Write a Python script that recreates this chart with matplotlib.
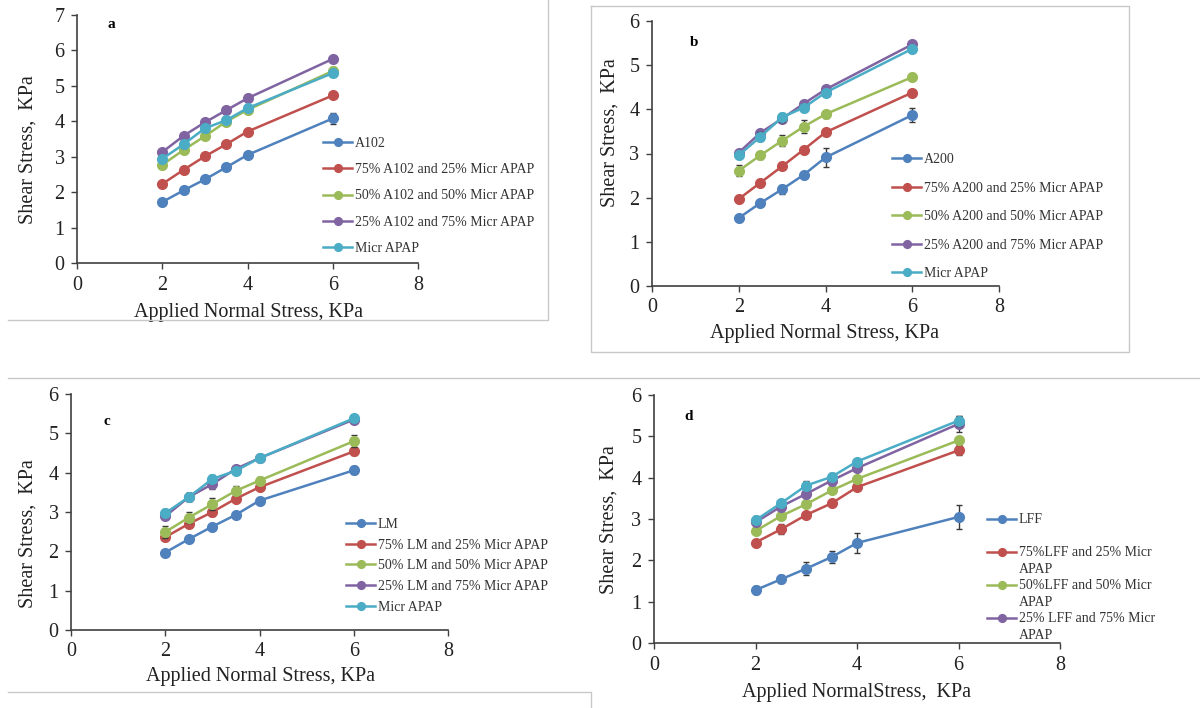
import matplotlib
matplotlib.use("Agg")
import numpy as np
import matplotlib.pyplot as plt
from matplotlib.lines import Line2D
from matplotlib.legend_handler import HandlerLine2D

plt.rcParams['font.family'] = ['Liberation Serif', 'DejaVu Serif']

# ---------------- data ----------------
x_stress = [2, 2.5, 3, 3.5, 4, 6]
colors = ['#4F81BD', '#C0504D', '#9BBB59', '#8064A2', '#4BACC6']

# panel a
a_labels = ['A102', '75% A102 and 25% Micr APAP', '50% A102 and 50% Micr APAP',
            '25% A102 and 75% Micr APAP', 'Micr APAP']
a_vals = [
    [1.72, 2.05, 2.36, 2.70, 3.05, 4.08],
    [2.23, 2.63, 3.01, 3.35, 3.71, 4.73],
    [2.77, 3.19, 3.58, 3.99, 4.32, 5.42],
    [3.13, 3.59, 3.97, 4.31, 4.65, 5.76],
    [2.94, 3.35, 3.80, 4.03, 4.37, 5.36],
]
a_err = [
    [0.05, 0.05, 0.07, 0.05, 0.05, 0.15],
    [0.05, 0.05, 0.05, 0.05, 0.05, 0.08],
    [0.05, 0.08, 0.08, 0.05, 0.10, 0.10],
    [0.05, 0.05, 0.05, 0.05, 0.05, 0.05],
    [0.05, 0.10, 0.10, 0.05, 0.08, 0.08],
]

# panel b
b_labels = ['A200', '75% A200 and 25% Micr APAP', '50% A200 and 50% Micr APAP',
            '25% A200 and 75% Micr APAP', 'Micr APAP']
b_vals = [
    [1.54, 1.88, 2.19, 2.52, 2.91, 3.87],
    [1.97, 2.34, 2.71, 3.09, 3.48, 4.38],
    [2.61, 2.96, 3.29, 3.61, 3.89, 4.73],
    [3.02, 3.47, 3.79, 4.13, 4.45, 5.47],
    [2.96, 3.38, 3.82, 4.04, 4.38, 5.37],
]
b_err = [
    [0.05, 0.05, 0.10, 0.05, 0.22, 0.15],
    [0.03, 0.05, 0.05, 0.05, 0.05, 0.05],
    [0.12, 0.08, 0.12, 0.15, 0.08, 0.06],
    [0.03, 0.05, 0.05, 0.05, 0.05, 0.05],
    [0.05, 0.10, 0.10, 0.07, 0.05, 0.05],
]

# panel c
c_labels = ['LM', '75% LM and 25% Micr APAP', '50% LM and 50% Micr APAP',
            '25% LM and 75% Micr APAP', 'Micr APAP']
c_vals = [
    [1.97, 2.31, 2.63, 2.93, 3.29, 4.06],
    [2.36, 2.70, 3.00, 3.34, 3.63, 4.54],
    [2.49, 2.86, 3.20, 3.54, 3.80, 4.80],
    [2.89, 3.38, 3.71, 4.10, 4.37, 5.35],
    [2.97, 3.38, 3.84, 4.05, 4.37, 5.38],
]
c_err = [
    [0.05, 0.05, 0.05, 0.05, 0.05, 0.10],
    [0.05, 0.05, 0.10, 0.05, 0.05, 0.08],
    [0.15, 0.15, 0.15, 0.12, 0.10, 0.15],
    [0.05, 0.10, 0.12, 0.05, 0.05, 0.05],
    [0.10, 0.10, 0.10, 0.05, 0.05, 0.05],
]

# panel d
d_labels = ['LFF', '75%LFF and 25% Micr\nAPAP', '50%LFF and 50% Micr\nAPAP',
            '25% LFF and 75% Micr\nAPAP', 'Micr APAP']
d_vals = [
    [1.28, 1.54, 1.80, 2.08, 2.42, 3.05],
    [2.43, 2.75, 3.10, 3.38, 3.77, 4.66],
    [2.71, 3.07, 3.36, 3.69, 3.97, 4.90],
    [2.92, 3.30, 3.61, 3.93, 4.23, 5.30],
    [2.97, 3.38, 3.81, 4.02, 4.39, 5.38],
]
d_err = [
    [0.10, 0.10, 0.15, 0.15, 0.25, 0.30],
    [0.05, 0.12, 0.08, 0.05, 0.08, 0.12],
    [0.05, 0.05, 0.05, 0.05, 0.05, 0.05],
    [0.05, 0.08, 0.10, 0.05, 0.05, 0.20],
    [0.10, 0.08, 0.12, 0.10, 0.07, 0.12],
]

x_ticks = [0, 2, 4, 6, 8]

W, H = 1200, 708
fig = plt.figure(figsize=(W / 100, H / 100), dpi=100)


class FirstLineHandler(HandlerLine2D):
    """Legend handle aligned with the first line of a two-line label."""
    def __init__(self, shift_pt, **kw):
        super().__init__(**kw)
        self.shift_pt = shift_pt

    def create_artists(self, legend, orig_handle, xdescent, ydescent, width,
                       height, fontsize, trans):
        arts = super().create_artists(legend, orig_handle, xdescent, ydescent,
                                      width, height, fontsize, trans)
        for a in arts:
            a.set_ydata(np.asarray(a.get_ydata(), dtype=float) + self.shift_pt)
        return arts


def px_axes(x0, x1, ytop, ybot):
    return fig.add_axes([x0 / W, 1 - ybot / H, (x1 - x0) / W, (ybot - ytop) / H])


def frame_line(xs, ys):
    fig.add_artist(Line2D([x / W for x in xs], [1 - y / H for y in ys],
                          transform=fig.transFigure, color='#C8C8C8', lw=1.0))


# panel frames
frame_line([8, 548, 548], [320, 320, 0])
frame_line([591, 1129, 1129, 591, 591], [6, 6, 352, 352, 6])
frame_line([8, 1200], [378, 378])
frame_line([8, 591, 591], [692, 692, 708])

panels = [
    dict(pos=(77, 418, 15, 263), ymax=7, labels=a_labels, vals=a_vals, err=a_err,
         tag='a', tagpos=(107, 25), xlabel='Applied Normal Stress, KPa',
         xl=(248, 313), yl=(28, 150),
         leg=(323, 137), spacing=0.95, n=5, ls=1.0, twoline=False),
    dict(pos=(652, 999, 21, 286), ymax=6, labels=b_labels, vals=b_vals, err=b_err,
         tag='b', tagpos=(690, 42), xlabel='Applied Normal Stress, KPa',
         xl=(824, 333), yl=(610, 133),
         leg=(892, 153), spacing=1.12, n=5, ls=1.0, twoline=False),
    dict(pos=(71, 448, 394, 630), ymax=6, labels=c_labels, vals=c_vals, err=c_err,
         tag='c', tagpos=(104, 421), xlabel='Applied Normal Stress, KPa',
         xl=(260, 677), yl=(28, 534),
         leg=(346, 518), spacing=0.55, n=5, ls=1.0, twoline=False),
    dict(pos=(654, 1060, 395, 643), ymax=6, labels=d_labels, vals=d_vals, err=d_err,
         tag='d', tagpos=(684, 417), xlabel='Applied NormalStress,  KPa',
         xl=(857, 693), yl=(609, 520),
         leg=(987, 513), spacing=0.2, n=4, ls=1.42, twoline=True),
]

for p in panels:
    ax = px_axes(*p['pos'])
    handles = []
    for i in range(5):
        h = ax.errorbar(x_stress, p['vals'][i], yerr=p['err'][i], color=colors[i],
                        marker='o', markersize=7, lw=1.8, ecolor='#3a3a3a',
                        elinewidth=1.0, capsize=2.5, capthick=1.0,
                        label=p['labels'][i], zorder=3 + i)
        handles.append(h[0])
    ax.set_xlim(0, 8)
    ax.set_ylim(0, p['ymax'])
    ax.set_xticks(x_ticks)
    ax.set_yticks(range(0, p['ymax'] + 1))
    for s in ['top', 'right']:
        ax.spines[s].set_visible(False)
    for s in ['left', 'bottom']:
        ax.spines[s].set_color('#404040')
        ax.spines[s].set_linewidth(1.2)
    ax.tick_params(direction='out', length=4, width=1.0, color='#404040',
                   labelsize=14.5, pad=5, labelcolor='#222222')
    ax.set_xlabel(p['xlabel'], fontsize=14.5, color='#222222', va='center')
    ax.set_ylabel('Shear Stress,  KPa', fontsize=14.5, color='#222222',
                  va='center', ha='center')
    ax.xaxis.set_label_coords(p['xl'][0] / W, 1 - p['xl'][1] / H, transform=fig.transFigure)
    ax.yaxis.set_label_coords(p['yl'][0] / W, 1 - p['yl'][1] / H, transform=fig.transFigure)
    ax.patch.set_alpha(0)
    fig.text(p['tagpos'][0] / W, 1 - p['tagpos'][1] / H, p['tag'], fontsize=11,
             fontweight='bold', ha='left', va='center')
    lx, ly = p['leg']
    labs = list(p['labels'][:p['n']])
    hmap = {}
    if p['twoline']:
        labs = [lab if '\n' in lab else lab + '\n' for lab in labs]
        for hh in handles[:p['n']]:
            hmap[hh] = FirstLineHandler(shift_pt=6.5)
    leg = ax.legend(handles[:p['n']], labs, loc='upper left',
                    bbox_to_anchor=(lx / W, 1 - ly / H), bbox_transform=fig.transFigure,
                    frameon=False, fontsize=10, handlelength=2.1, handletextpad=0.2,
                    borderpad=0, borderaxespad=0, labelspacing=p['spacing'],
                    markerscale=0.8, handler_map=hmap)
    for t in leg.get_texts():
        t.set_color('#333333')
        t.set_linespacing(p['ls'])

fig.savefig('out.png', dpi=100)
